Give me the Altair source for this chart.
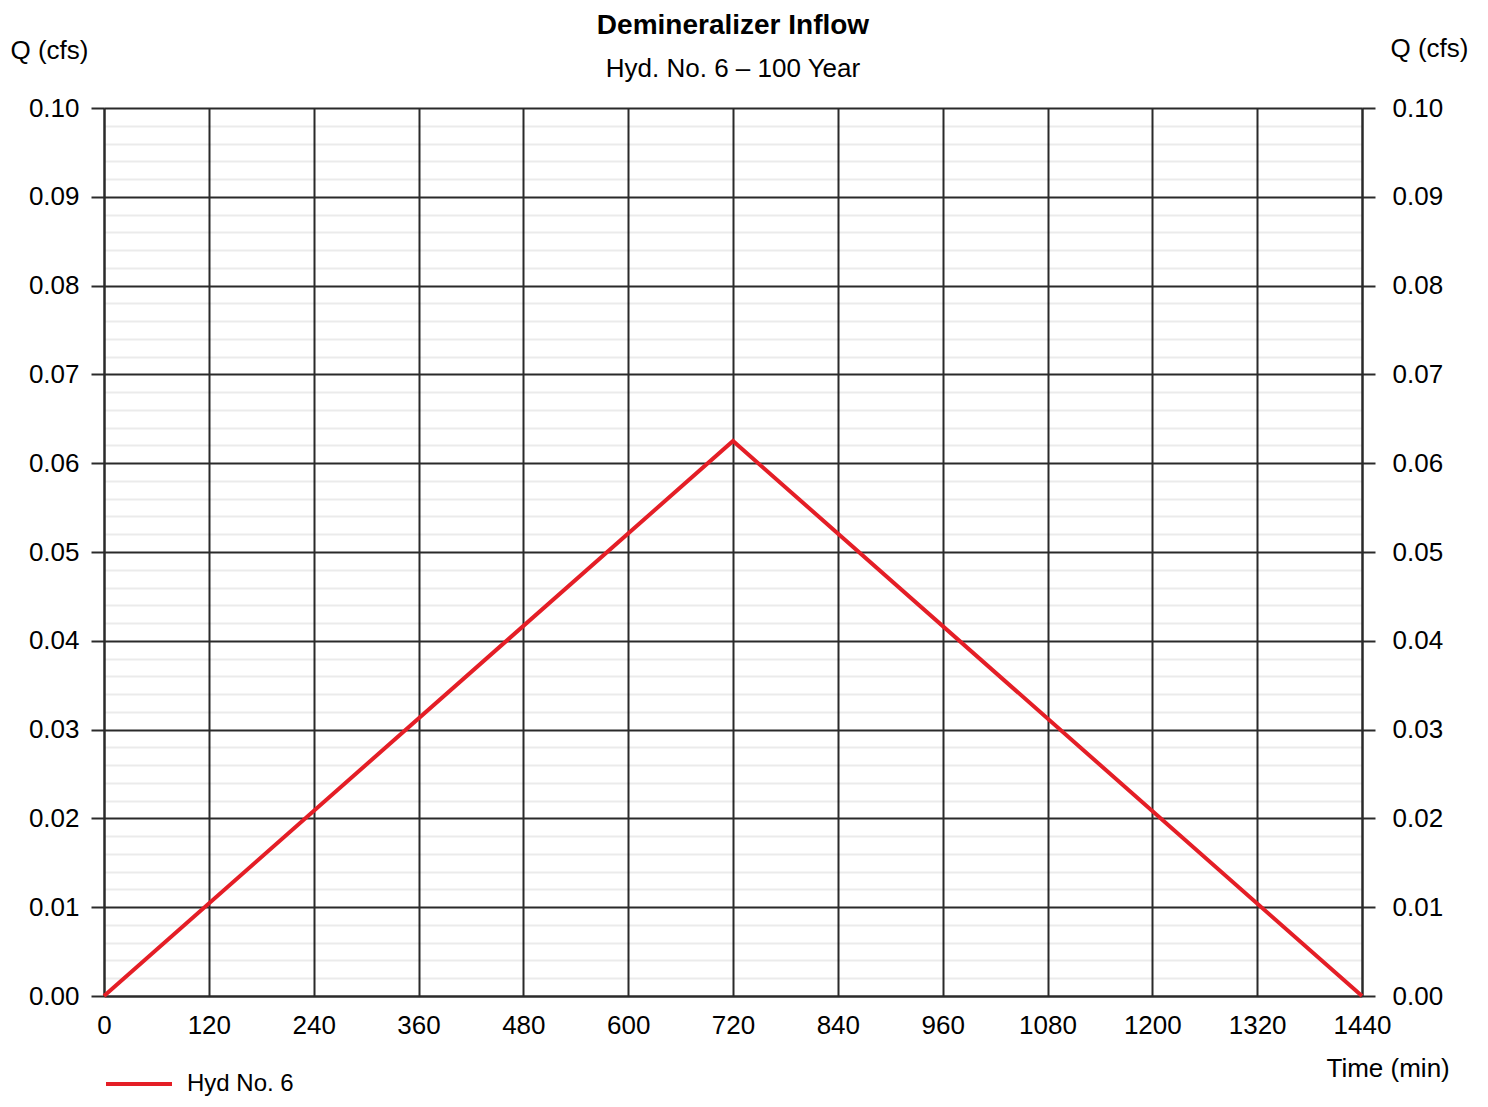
import altair as alt
import pandas as pd

# ---- data ----
time_min = [0, 720, 1440]
q_cfs = [0.0, 0.0625, 0.0]
series = ["Hyd No. 6", "Hyd No. 6", "Hyd No. 6"]

x_ticks = [0, 120, 240, 360, 480, 600, 720, 840, 960, 1080, 1200, 1320, 1440]
y_ticks = [0.00, 0.01, 0.02, 0.03, 0.04, 0.05, 0.06, 0.07, 0.08, 0.09, 0.10]
y_minor = [round(i * 0.002, 3) for i in range(51) if i % 5]

FONT = "Liberation Sans"
GRID = "#2a2a2a"
RED = "#e41e26"

df = pd.DataFrame({"time": time_min, "q": q_cfs, "series": series})

xscale = alt.Scale(domain=[0, 1440], nice=False, zero=False)
yscale = alt.Scale(domain=[0, 0.1], nice=False)

x_axis = alt.Axis(values=x_ticks, format="d", grid=True, gridColor=GRID, gridWidth=2,
                  ticks=False, labelPadding=16, labelFontSize=26, labelFont=FONT,
                  labelColor="black", labelFlush=False,
                  domainColor=GRID, domainWidth=2,
                  title="Time (min)", titleX=1222, titleY=72, titleAlign="left",
                  titleBaseline="middle", titleFontSize=26, titleFont=FONT,
                  titleFontWeight="normal", titleColor="black")

base = alt.Chart(df)

minor = base.mark_line(opacity=0).encode(
    x=alt.X("time:Q", scale=xscale, axis=x_axis),
    y=alt.Y("q:Q", scale=yscale,
            axis=alt.Axis(values=y_minor, grid=True, gridColor="black", gridOpacity=0.08,
                          gridWidth=2, labels=False, ticks=False, domain=False, title=None,
                          orient="left")),
)

main = base.mark_line(strokeWidth=4).encode(
    x=alt.X("time:Q", scale=xscale, axis=x_axis),
    y=alt.Y("q:Q", scale=yscale,
            axis=alt.Axis(values=y_ticks, format=".2f", grid=True, gridColor=GRID, gridWidth=2,
                          tickSize=13, tickColor=GRID, tickWidth=2, labelPadding=12,
                          labelFontSize=26, labelFont=FONT, labelColor="black",
                          domainColor=GRID, domainWidth=2, orient="left",
                          title="Q (cfs)", titleAngle=0, titleX=-94, titleY=-58,
                          titleAlign="left", titleBaseline="middle", titleFontSize=26,
                          titleFont=FONT, titleFontWeight="normal", titleColor="black")),
    color=alt.Color("series:N", scale=alt.Scale(range=[RED]),
                    legend=alt.Legend(orient="none", legendX=0, legendY=941, title=None,
                                      symbolType="stroke", symbolSize=4356,
                                      symbolStrokeWidth=4, labelFontSize=24,
                                      labelFont=FONT, labelColor="black", labelOffset=13,
                                      padding=0)),
)

right = base.mark_line(opacity=0).encode(
    x=alt.X("time:Q", scale=xscale, axis=x_axis),
    y=alt.Y("q:Q", scale=yscale,
            axis=alt.Axis(values=y_ticks, format=".2f", grid=False, orient="right",
                          tickSize=13, tickColor=GRID, tickWidth=2, labelPadding=17,
                          labelFontSize=26, labelFont=FONT, labelColor="black",
                          domainColor=GRID, domainWidth=2,
                          title="Q (cfs)", titleAngle=0, titleX=28, titleY=-60,
                          titleAlign="left", titleBaseline="middle", titleFontSize=26,
                          titleFont=FONT, titleFontWeight="normal", titleColor="black")),
)

chart = alt.layer(minor, main, right).resolve_axis(y="independent").properties(
    width=1258,
    height=888,
    autosize=alt.AutoSizeParams(type="none"),
    padding={"left": 96, "top": 100, "right": 110, "bottom": 103},
    title=alt.Title("Demineralizer Inflow", subtitle="Hyd. No. 6 – 100 Year",
                    anchor="middle", font=FONT, fontSize=28, fontWeight="bold",
                    color="black", subtitleFont=FONT, subtitleFontSize=26,
                    subtitleColor="black", offset=30, subtitlePadding=16, dy=77),
).configure_view(stroke=None).configure(background="white")

chart.save("out.html", embed_options={"renderer": "svg", "actions": False})
